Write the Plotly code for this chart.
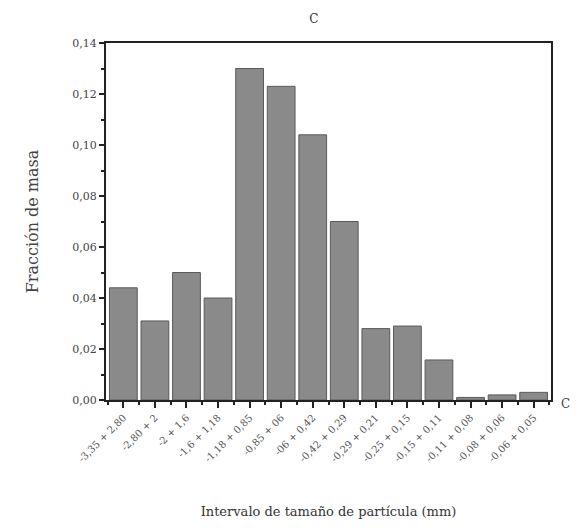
import plotly.graph_objects as go

# Particle size intervals (mm) and mass fraction retained in each
intervals = [
    "-3,35 + 2,80", "-2,80 + 2", "-2 + 1,6", "-1,6 + 1,18", "-1,18 + 0,85",
    "-0,85 + 06", "-06 + 0,42", "-0,42 + 0,29", "-0,29 + 0,21", "-0,25 + 0,15",
    "-0,15 + 0,11", "-0,11 + 0,08", "-0,08 + 0,06", "-0,06 + 0,05",
]
mass_fraction = [0.044, 0.031, 0.050, 0.040, 0.130, 0.123, 0.104,
                 0.070, 0.028, 0.029, 0.0157, 0.001, 0.002, 0.003]
y_ticks = [0.00, 0.02, 0.04, 0.06, 0.08, 0.10, 0.12, 0.14]
y_tick_text = ["0,00", "0,02", "0,04", "0,06", "0,08", "0,10", "0,12", "0,14"]

FONT = "DejaVu Serif"

fig = go.Figure(go.Bar(
    x=list(range(len(intervals))),
    y=mass_fraction,
    marker=dict(color="#8a8a8a", line=dict(color="#5a5a5a", width=1)),
))

fig.update_layout(
    width=576, height=529,
    margin=dict(l=106, r=25, t=43, b=129),
    paper_bgcolor="white", plot_bgcolor="white",
    bargap=0.12,
    showlegend=False,
    font=dict(family=FONT, color="#444444", size=11),
    title=dict(text="C", x=0.545, xanchor="center", y=0.965, yanchor="middle",
               font=dict(family=FONT, size=12, color="#333333")),
)

fig.update_xaxes(
    range=[-0.55, len(intervals) - 0.45],
    tickmode="array", tickvals=list(range(len(intervals))), ticktext=intervals,
    tickangle=-45, ticks="outside", ticklen=6, tickwidth=1.5, tickcolor="#222222",
    minor=dict(tickmode="array",
               tickvals=[i + 0.5 for i in range(-1, len(intervals))],
               ticks="outside", ticklen=3, tickcolor="#222222"),
    showline=True, linecolor="#222222", linewidth=2, mirror=True,
    showgrid=False, zeroline=False,
    tickfont=dict(family=FONT, size=10, color="#555555"),
    title=dict(text="Intervalo de tamaño de partícula (mm)", standoff=44,
               font=dict(family=FONT, size=13, color="#333333")),
)

fig.update_yaxes(
    range=[0, 0.14],
    tickmode="array", tickvals=y_ticks, ticktext=y_tick_text,
    ticks="outside", ticklen=5, tickwidth=1.5, tickcolor="#222222",
    minor=dict(dtick=0.01, ticks="outside", ticklen=3, tickcolor="#222222"),
    showline=True, linecolor="#222222", linewidth=2, mirror=True,
    showgrid=False, zeroline=False,
    tickfont=dict(family=FONT, size=11, color="#444444"),
    title=dict(text="Fracción de masa", standoff=30,
               font=dict(family=FONT, size=16, color="#444444")),
)

# Edge of the neighbouring panel's label
fig.add_annotation(x=1.0, y=0, xref="paper", yref="paper", xanchor="left",
                   yanchor="middle", xshift=8, yshift=-4, showarrow=False,
                   text="C", font=dict(family=FONT, size=12, color="#444444"))

fig.write_html("out.html")
